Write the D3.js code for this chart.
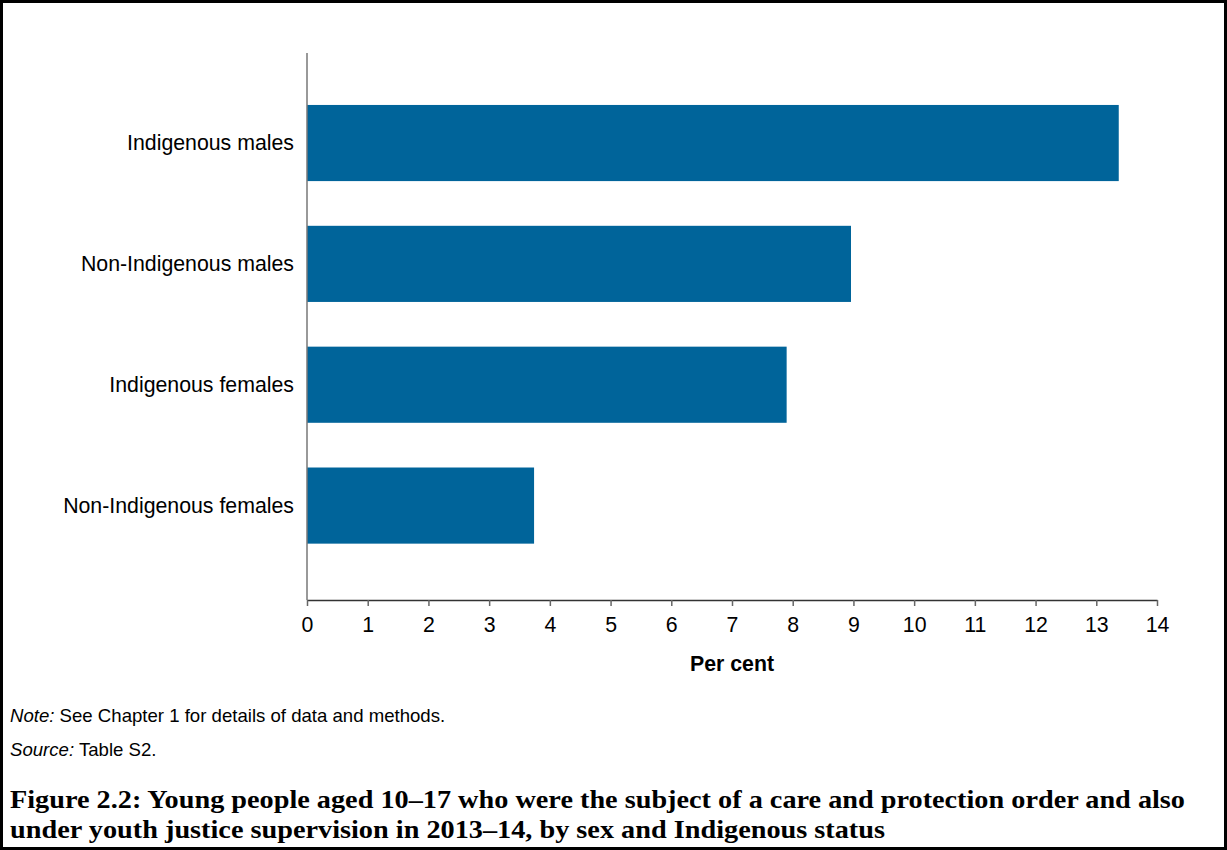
<!DOCTYPE html>
<html><head><meta charset="utf-8">
<script src="https://cdn.jsdelivr.net/npm/d3@7"></script>
<style>body{margin:0;background:#fff}svg{display:block}</style>
</head><body>
<script>
const categories = ["Indigenous males","Non-Indigenous males","Indigenous females","Non-Indigenous females"];
const values = [13.37, 8.96, 7.9, 3.74];
const xTicks = [0,1,2,3,4,5,6,7,8,9,10,11,12,13,14];
const xTitle = "Per cent";
const titleLines = ["Figure 2.2: Young people aged 10\u201317 who were the subject of a care and protection order and also","under youth justice supervision in 2013\u201314, by sex and Indigenous status"];

const W=1227,H=850;
const svg=d3.select("body").append("svg").attr("width",W).attr("height",H);
svg.append("rect").attr("x",1.5).attr("y",1.5).attr("width",W-3).attr("height",H-3).attr("fill","#fff").attr("stroke","#000").attr("stroke-width",3);

const x=d3.scaleLinear().domain([0,14]).range([307,1157]);
const y=d3.scaleBand().domain(categories).range([82.6,566]).paddingInner(0.37).paddingOuter(0.185);

svg.append("g").selectAll("rect").data(categories).join("rect")
 .attr("x",x(0)).attr("y",d=>y(d)).attr("height",y.bandwidth())
 .attr("width",(d,i)=>x(values[i])-x(0)).attr("fill","#00649a");

// y axis
svg.append("line").attr("x1",307).attr("x2",307).attr("y1",53).attr("y2",600).attr("stroke","#777").attr("stroke-width",1.5);
svg.append("g").selectAll("text").data(categories).join("text")
 .attr("x",294).attr("y",d=>y(d)+y.bandwidth()/2).attr("dy","0.35em").attr("text-anchor","end")
 .attr("font-family","Liberation Sans, Arial, sans-serif").attr("font-size",21.3).attr("fill","#000").text(d=>d);

// x axis
const xa=svg.append("g").attr("transform","translate(0,600)")
 .call(d3.axisBottom(x).tickValues(xTicks).tickSize(6).tickPadding(11).tickSizeOuter(0));
xa.select(".domain").attr("stroke","#333").attr("stroke-width",1.5);
xa.selectAll(".tick line").attr("stroke","#666").attr("stroke-width",1.5);
xa.selectAll(".tick text").attr("font-family","Liberation Sans, Arial, sans-serif").attr("font-size",21.3).attr("fill","#000");

svg.append("text").attr("x",732).attr("y",671).attr("text-anchor","middle")
 .attr("font-family","Liberation Sans, Arial, sans-serif").attr("font-weight","bold").attr("font-size",21.3).text(xTitle);

const note=svg.append("text").attr("x",10).attr("y",722).attr("font-family","Liberation Sans, Arial, sans-serif").attr("font-size",18.6);
note.append("tspan").attr("font-style","italic").text("Note:");
note.append("tspan").text(" See Chapter 1 for details of data and methods.");
const src=svg.append("text").attr("x",10).attr("y",756).attr("font-family","Liberation Sans, Arial, sans-serif").attr("font-size",18.6);
src.append("tspan").attr("font-style","italic").text("Source:");
src.append("tspan").text(" Table S2.");

svg.append("g").selectAll("text").data(titleLines).join("text")
 .attr("x",10).attr("y",(d,i)=>808+i*30)
 .attr("font-family","Liberation Serif, serif").attr("font-weight","bold").attr("font-size",25)
 .attr("textLength",(d,i)=>i===0?1175:875).attr("lengthAdjust","spacingAndGlyphs")
 .text(d=>d);
</script>
</body></html>
